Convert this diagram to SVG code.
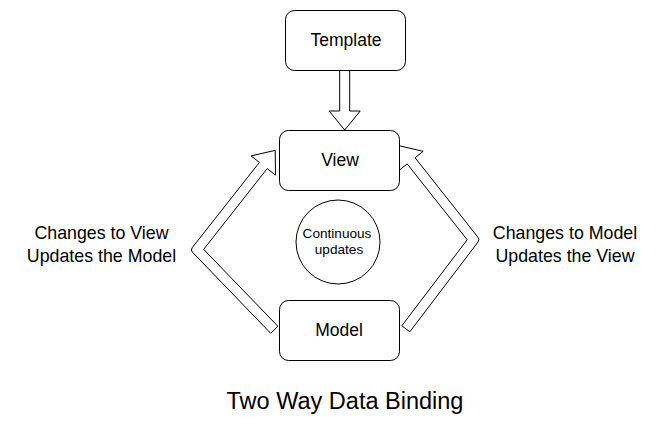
<svg xmlns="http://www.w3.org/2000/svg" width="666" height="424" viewBox="0 0 666 424">
<style>
.box{fill:#fff;stroke:#000;stroke-width:1}
.arr{fill:#fff;stroke:#000;stroke-width:1;stroke-linejoin:miter}
.lbl{font-family:"Liberation Sans",Arial,sans-serif;fill:#000;text-anchor:middle}
</style>
<rect width="666" height="424" fill="#fff"/>
<g id="connectors">
<path id="template-to-view" class="arr" d="M339.7,70.5 L339.7,111 L329.2,111 L344.7,130 L360.2,111 L349.7,111 L349.7,70.5 Z"/>
<path id="model-to-view-left" class="arr" d="M270.7,333.3 L192.45,252.2 Q190.37,250.04 192.22,247.68 L259.4,162.4 L251.1,155.9 L275.2,150.35 L275.5,175.1 L267.2,168.6 L203.63,249.36 L277.9,326.3 Z"/>
<path id="model-to-view-right" class="arr" d="M409.78,331.83 L478,242.03 Q479.82,239.64 477.96,237.29 L415.08,157.75 L423.16,151.36 L399.25,145.78 L399.14,170.34 L407.22,163.95 L467.18,239.76 L401.82,325.78 Z"/>
</g>
<g id="template">
<rect class="box" x="285.5" y="10.5" width="120" height="60" rx="9" ry="9"/>
<text class="lbl" x="346" y="46" font-size="17.5">Template</text>
</g>
<g id="view">
<rect class="box" x="279.5" y="130.5" width="120" height="60" rx="9" ry="9"/>
<text class="lbl" x="340" y="166" font-size="17.5">View</text>
</g>
<g id="model">
<rect class="box" x="279.5" y="300.5" width="120" height="60" rx="9" ry="9"/>
<text class="lbl" x="339" y="336" font-size="17.5">Model</text>
</g>
<g id="continuous-updates">
<circle class="box" cx="338" cy="242" r="42"/>
<text class="lbl" x="337" y="237.5" font-size="13.6">Continuous</text>
<text class="lbl" x="339" y="253.5" font-size="13.6">updates</text>
</g>
<g id="label-left">
<text class="lbl" x="101.5" y="239" font-size="17.8">Changes to View</text>
<text class="lbl" x="101.5" y="262" font-size="17.8">Updates the Model</text>
</g>
<g id="label-right">
<text class="lbl" x="565" y="239" font-size="17.8">Changes to Model</text>
<text class="lbl" x="565" y="262" font-size="17.8">Updates the View</text>
</g>
<g id="title">
<text class="lbl" x="345" y="409" font-size="23.5">Two Way Data Binding</text>
</g>
</svg>
